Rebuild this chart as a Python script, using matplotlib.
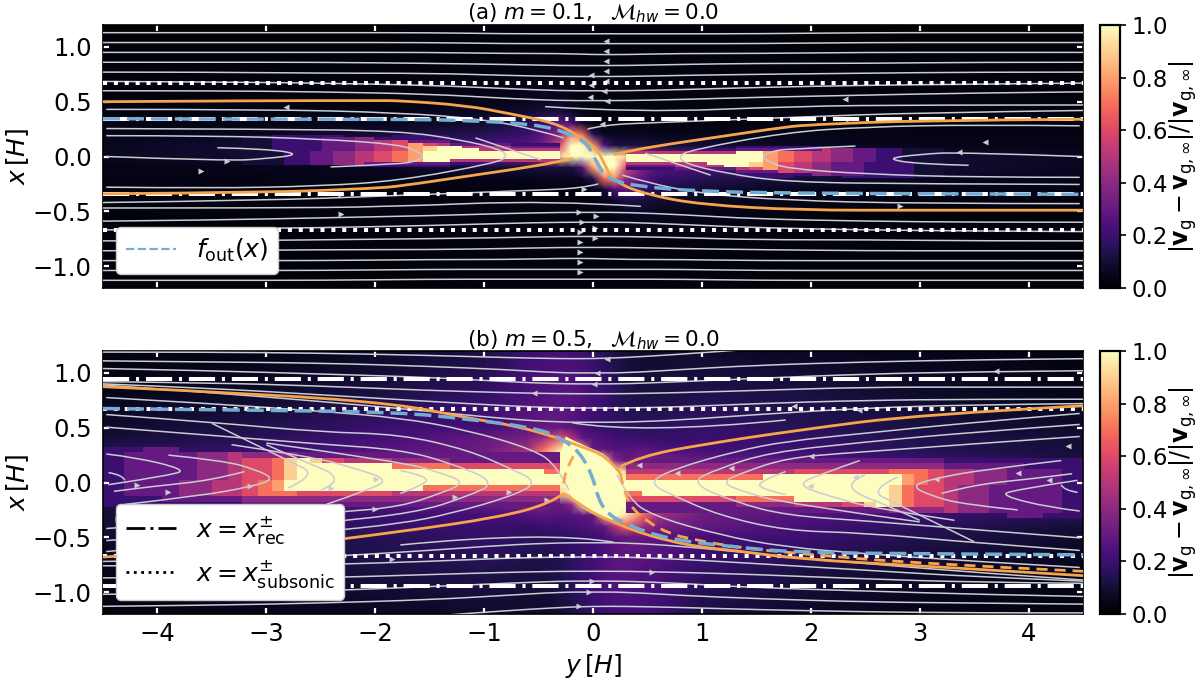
import numpy as np
import matplotlib
matplotlib.use('Agg')
import matplotlib.pyplot as plt
from matplotlib.lines import Line2D
from matplotlib.path import Path
from matplotlib.patches import PathPatch

plt.rcParams['font.size'] = 18

# grid of the background glow, values in percent of the colour range
bg_y = [-4.5, -3, -2, -1, -.6, -.45, -.3, -.2, -.1, 0, .1, .2, .3, .45, .6, 1, 2, 3, 4.5]
bg_x = [1.2, .8, .5, .4, .3, .2, .1, 0, -.1, -.2, -.3, -.4, -.5, -.8, -1.2]
bg_a_top = [
    [1, 1, 1, 2, 2, 2, 2, 2, 2, 2, 2, 2, 2, 2, 2, 2, 1, 1, 1],
    [2, 2, 2, 3, 3, 3, 3, 3, 3, 3, 3, 3, 3, 3, 3, 3, 2, 2, 2],
    [3, 3, 3, 5, 6, 7, 6, 5, 4, 3, 3, 3, 3, 3, 3, 3, 3, 3, 3],
    [3, 3, 4, 7, 9, 12, 12, 8, 5, 3, 3, 3, 3, 3, 3, 3, 3, 3, 3],
    [4, 4, 5, 9, 14, 20, 30, 25, 10, 4, 3, 3, 3, 3, 3, 3, 3, 3, 3],
    [5, 6, 10, 15, 20, 28, 40, 75, 70, 15, 7, 6, 6, 6, 5, 5, 5, 4, 4],
    [6, 10, 15, 25, 25, 35, 60, 100, 100, 80, 25, 12, 12, 12, 10, 10, 6, 5, 4],
    [6, 10, 20, 30, 40, 60, 90, 100, 100, 100, 100, 100, 90, 60, 40, 30, 20, 10, 6],
]
bg_b_top = [
    [3, 4, 7, 12, 20, 22, 22, 22, 20, 18, 15, 12, 10, 8, 8, 8, 6, 5, 3],
    [5, 8, 12, 18, 24, 25, 27, 27, 25, 22, 20, 17, 14, 12, 12, 14, 12, 8, 5],
    [8, 14, 20, 22, 28, 30, 30, 27, 22, 20, 18, 17, 17, 16, 17, 18, 15, 12, 8],
    [10, 16, 22, 30, 35, 45, 65, 50, 30, 26, 24, 22, 20, 20, 18, 20, 18, 14, 10],
    [15, 20, 25, 32, 45, 70, 95, 100, 80, 30, 28, 26, 26, 28, 25, 22, 20, 15, 10],
    [18, 25, 30, 35, 50, 80, 100, 100, 100, 100, 90, 40, 30, 35, 35, 30, 25, 20, 12],
    [20, 30, 40, 50, 60, 80, 100, 100, 100, 100, 100, 100, 90, 60, 50, 40, 30, 25, 15],
    [22, 35, 50, 70, 100, 100, 100, 100, 100, 100, 100, 100, 100, 100, 100, 70, 50, 35, 22],
]

# blocky wedge left of the planet, tenths of the range, a=1.0, '.'=no cell
wedge_y = [-4.50, -4.31, -4.13, -3.96, -3.80, -3.64, -3.50, -3.35, -3.22, -3.08, -2.95,
           -2.84, -2.72, -2.60, -2.49, -2.39, -2.29, -2.19, -2.10, -2.01, -1.85, -1.70,
           -1.56, -1.43, -1.31, -1.20, -1.05, -.90, -.75, -.60, -.45, -.30]
wedge_a_x = [.2, .175, .15, .125, .1, .075, .05, .025, 0, -.025, -.05, -.075, -.1]
wedge_a = [
    "........" "11222222" "....2222" ".......",
    "........" "11222233" "344" "22222" ".......",
    "........" "11222233" "34456" "333" "222" "....",
    "........" "11222233" "344568" "6" "5" "3333" "222",
    "........" "11222233" "344568" "9" "aa" "555" "333",
    "........" "11222233" "344568" "9" "aaa" "55555",
    "........" "11122334" "455678" "aaaaaaaaa",
    "........" "11122334" "455678" "aaaaaaaaa",
    "........" "11122334" "455678" "aaaaaaaaa",
    "........" "11122334" "455678" "aa" "5555555",
    "........" "11122334" "45" "333333" "222....",
    "........" "........" ".." "222222" ".......",
]
wedge_b_x = [.325, .275, .225, .175, .125, .075, .025, -.025, -.075, -.125, -.175, -.225]
wedge_b = [
    "2233" "...........................",
    "23333445" "4444" "3333" "3333" "33333333333",
    "233334456679" "a966" "5555" "4444" "3333333",
    "233334456679" "aaaa" "aaaa" "7777" "6666666",
    "233334456679" "aaaa" "aaaa" "aaaa" "aaaa" "aa7",
    "233334456679" "aaaaaaaaaaaaaaaaaaa",
    "23334455678a" "aaaaaaaaaaaaaaaaaaa",
    "23334455678a" "aaaa" "aaaa" "aa77" "7777" "777",
    "23334455" "6777" "6666" "6666" "5555" "5555" "555",
    "22233333" "4444" "4444" "4444" "4444" "4444" "444",
    "22222222" "3333" "3333" "3333" "3333" "3333" "333",
]

# saturated blob around the planet in (b)
core_b_y = [-.25, -.1, .13, .25, .3, .2, .01, -.145, -.24, -.3, -.3, -.25]
core_b_x = [.42, .34, .26, .05, -.15, -.37, -.3, -.2, -.07, .07, .3, .42]

# separatrices
orange_a_y = [-4.5, -3, -2, -1.77, -1.16, -.76, -.36, -.15, .04, .1, .19, .5, 1, 1.9, 3, 4.5]
orange_a_x = [.5, .51, .51, .51, .465, .39, .31, .2, .065, -.06, -.23, -.35, -.44, -.49, -.49, -.49]
stub_a_y = [-4.5, -3, -2, -1.77, -1.16, -.54, -.24, -.19]
stub_a_x = [-.34, -.33, -.29, -.27, -.18, -.09, -.03, -.02]
blue_a_y = [-4.5, -3, -1.77, -1.16, -.54, -.24, -.05, .04, .13, .38, 1, 1.9, 3, 4.5]
blue_a_x = [.345, .34, .34, .33, .295, .22, .125, -.07, -.2, -.27, -.32, -.335, -.34, -.345]

orange_b_y = [-4.5, -3, -1.77, -1.16, -.7, -.33, -.115, .13, .25]
orange_b_x = [.874, .807, .714, .59, .515, .41, .33, .24, .085]
dash_b_y = [.25, .285, .345, .5, .71, .9, 1.3, 1.9, 3, 4.5]
dash_b_x = [.085, -.07, -.22, -.36, -.47, -.515, -.59, -.65, -.74, -.81]
low_b_y = [-.27, -.145, .01, .19, .375, .68, .99, 1.3, 1.9, 3, 4.5]
low_b_x = [-.1, -.18, -.285, -.36, -.44, -.53, -.59, -.62, -.70, -.76, -.85]
up_b_y = [.25, .44, .99, 1.9, 3, 4.5]
up_b_x = [.145, .24, .345, .48, .62, .70]
left_b_y = [-4.5, -3, -1.77, -.85, -.39, -.27]
left_b_x = [-.68, -.6, -.45, -.315, -.19, -.1]
inner_b_y = [-.18, -.27, -.27]
inner_b_x = [.24, .085, -.03]
blue_b_y = [-4.5, -3, -1.77, -1.16, -.54, -.3, -.115, 0, .04, .13, .32, .68, 1.3, 1.9, 3, 4.5]
blue_b_x = [.675, .66, .64, .58, .5, .41, .27, .05, -.13, -.285, -.39, -.515, -.59, -.64, -.65, -.66]

rec_a, sub_a = .345, .67
rec_b, sub_b = .945, .67

# streamlines that cross the whole panel, x at flow_y, lower half is the same turned by 180 deg
flow_y = [-4.5, -3.5, -2.5, -1.5, -.8, -.3, 0, .3, .8, 1.5, 2.5, 3.5, 4.5]
flow_a = [
    [1.13, 1.13, 1.13, 1.13, 1.12, 1.12, 1.12, 1.12, 1.12, 1.12, 1.13, 1.13, 1.13],
    [1.04, 1.04, 1.04, 1.04, 1.03, 1.03, 1.03, 1.03, 1.03, 1.03, 1.04, 1.04, 1.04],
    [.95, .95, .95, .95, .94, .94, .93, .93, .94, .94, .95, .95, .95],
    [.86, .86, .86, .85, .84, .83, .83, .83, .84, .85, .85, .86, .86],
    [.77, .77, .76, .76, .74, .73, .73, .73, .74, .75, .76, .77, .77],
    [.685, .68, .67, .65, .62, .60, .60, .60, .61, .63, .65, .66, .67],
    [.60, .60, .59, .57, .53, .51, .51, .51, .52, .54, .56, .58, .59],
]
flow_b = [
    [1.19, 1.19, 1.18, 1.16, 1.14, 1.13, 1.13, 1.14, 1.17, 1.22, 1.3, 1.3, 1.3],
    [1.11, 1.10, 1.09, 1.06, 1.03, 1.0, 1.0, 1.0, 1.03, 1.07, 1.10, 1.12, 1.13],
    [1.04, 1.02, .99, .96, .92, .90, .90, .90, .92, .95, .99, 1.01, 1.02],
    [.92, .91, .88, .84, .82, .81, .81, .81, .82, .84, .87, .87, .87],
    [.90, .86, .80, .74, .70, .68, .68, .68, .69, .72, .75, .76, .76],
    [.89, .82, .74, .65, .58, .55, .55, .55, .57, .62, .68, .71, .72],
]

# shorter streamlines and horseshoes left of the planet, as (y, x) lists
arcs_a = [
    ([-.44, .4, 1.9, 3, 4.5], [.455, .40, .46, .47, .47]),
    ([-.05, .1, .6, 1.9, 3, 4.5], [.25, .29, .31, .36, .40, .42]),
    ([-4.47, -3, -1.77, -1, -.5, -.27], [.43, .43, .40, .34, .24, .17]),
    ([-4.47, -3, -1.77, -1.2, -.85, -.78, -.9, -1.77, -2.5, -3.5, -4.47],
     [.255, .25, .234, .15, .065, 0, -.06, -.22, -.27, -.29, -.28]),
    ([-4.47, -3.5, -2.5, -1.77, -1.6, -1.55, -1.62, -1.77, -2.41],
     [.19, .19, .16, .11, .04, 0, -.04, -.07, -.095]),
    ([-3.45, -3, -2.68, -3, -3.36, -4.47], [.08, .07, .02, -.02, -.04, 0]),
    ([-1.08, -.48], [.17, -.03]),
]
arcs_b = [
    ([-4.47, -3.5, -2.5, -1.77, -1.16, -.54, -.33, -.22],
     [.775, .72, .65, .59, .48, .3, .15, -.07]),
    ([-4.47, -3.5, -2.5, -1.77, -1.16, -.76, -.5, -.76, -1.31, -1.77, -2.5, -3.5, -4.47],
     [.62, .55, .46, .44, .3, .13, 0, -.13, -.285, -.376, -.45, -.55, -.63]),
    ([-4.47, -3.5, -2.5, -1.77, -1.31, -.88, -1.16, -1.62, -2.5, -3.5, -4.47],
     [.505, .43, .35, .3, .18, 0, -.13, -.275, -.37, -.46, -.53]),
    ([-3, -1.77, -1.4, -1.17, -1.4, -1.77, -2.3, -4.47], [.36, .19, .09, 0, -.1, -.22, -.27, -.42]),
    ([-1.77, -1.48, -1.6, -1.77], [.11, .05, -.04, -.1]),
    ([-3.32, -2.6, -2.15, -1.87, -2.1, -2.45], [.345, .24, .12, .02, -.08, -.2]),
    ([-3, -2.75, -2.25, -2.5], [.345, .23, .03, -.07]),
    ([-3.5, -2.8, -2.53, -2.8], [.54, .2, .07, -.05]),
    ([-3.2, -3.5, -4, -4.4], [.1, .02, -.03, -.08]),
    ([-3.9, -3.4, -3.1, -2.92, -3.15, -3.6, -4.3], [.25, .2, .12, .03, -.04, -.12, -.2]),
    ([-4.47, -4.2, -3.75, -3.85, -4.45], [.26, .23, .12, .07, -.02]),
    ([-4.45, -4.32, -4.3], [.09, .07, .02]),
    ([-1.77, -.44, .19], [-.57, -.44, -.545]),
]

# arrow heads that point to -y, turned copies point to +y
arrow_a_y = [-2.82, .1, .13, .08, .12, .12, .12, .12, .12, 3.36, 3.6, 2.31, 2.31, -.03, -.02, -.02]
arrow_a_x = [.45, .6, .51, .3, 1.05, .96, .87, .78, .69, .04, .135, .345, .525, .54, .65, .745]
arrow_b_y = [.13, .04, .01, -.54, 1.85, 3.7, 2.44, 4.36, 3.9, 4.19, 3.15, 2.41, 2.0, 1.99, .42, .77, 1.27]
arrow_b_x = [1.13, 1.0, .9, .82, .7, 1.02, .66, .33, .09, .02, .03, .05, .24, -.03, .16, .09, .13]

x_ticks = [-1, -.5, 0, .5, 1]
y_ticks = [-4, -3, -2, -1, 0, 1, 2, 3, 4]
cbar_ticks = [0, .2, .4, .6, .8, 1]

line_col = '#c9ccd2'
orange = '#f6a54c'
blue = '#74add2'
dashdot = (0, (6.5, 1.7, .76, 1.7))
dotted = (0, (1, 1.7))
blue_dash = (0, (4.9, 2))
orange_dash = (0, (4, 2.5))


def curve(ax, ys, xs, fill=None, **kw):
    # matplotlib draws the typed points as a quadratic bezier chain
    pts = np.column_stack([ys, xs])
    verts = [pts[0]]
    codes = [Path.MOVETO]
    for i in range(1, len(pts) - 1):
        end = pts[i + 1] if i == len(pts) - 2 else (pts[i] + pts[i + 1]) / 2
        verts += [pts[i], end]
        codes += [Path.CURVE3, Path.CURVE3]
    if len(pts) == 2:
        verts.append(pts[1])
        codes.append(Path.LINETO)
    patch = PathPatch(Path(verts, codes), facecolor=fill if fill is not None else 'none', **kw)
    ax.add_patch(patch)


def read_wedge(rows):
    table = np.full((len(rows), len(wedge_y) - 1), np.nan)
    for i, row in enumerate(rows):
        for j, c in enumerate(row):
            if c == 'a':
                table[i, j] = 1.0
            elif c != '.':
                table[i, j] = int(c) / 10
    return np.ma.masked_invalid(table)


def draw_panel(ax, bg_top, wedge_x, wedge, flow, arcs, arrow_y, arrow_x):
    top = np.array(bg_top) / 100
    bg = np.vstack([top, top[-2::-1, ::-1]])
    mesh = ax.pcolormesh(bg_y, bg_x, bg, cmap='magma', vmin=0, vmax=1, shading='gouraud')
    cells = read_wedge(wedge)
    ey = np.array(wedge_y)
    ex = np.array(wedge_x)
    ax.pcolormesh(ey, ex, cells, cmap='magma', vmin=0, vmax=1)
    ax.pcolormesh(-ey, -ex, cells, cmap='magma', vmin=0, vmax=1)
    fy = np.array(flow_y)
    for row in flow:
        row = np.array(row)
        curve(ax, fy, row, edgecolor=line_col, lw=1.1, zorder=3)
        curve(ax, -fy, -row, edgecolor=line_col, lw=1.1, zorder=3)
    for ys, xs in arcs:
        ys, xs = np.array(ys), np.array(xs)
        curve(ax, ys, xs, edgecolor=line_col, lw=1.1, zorder=3)
        curve(ax, -ys, -xs, edgecolor=line_col, lw=1.1, zorder=3)
    ay, ax_ = np.array(arrow_y), np.array(arrow_x)
    ax.plot(ay, ax_, ls='none', marker='<', ms=4.5, mfc=line_col, mec='none', zorder=3)
    ax.plot(-ay, -ax_, ls='none', marker='>', ms=4.5, mfc=line_col, mec='none', zorder=3)
    return mesh


def finish_panel(ax, title):
    ax.set_xlim(-4.5, 4.5)
    ax.set_ylim(-1.2, 1.2)
    ax.set_xticks(y_ticks)
    ax.set_yticks(x_ticks)
    ax.tick_params(direction='in', color='white', width=1.6, length=4, top=True, right=True,
                   labelsize=17.5, pad=6)
    ax.tick_params(axis='y', pad=8)
    ax.set_ylabel(r'$x\,[H]$', fontsize=18, labelpad=1)
    ax.set_title(title, fontsize=15.5, pad=3)
    for s in ax.spines.values():
        s.set_linewidth(1.2)


fig = plt.figure(figsize=(12, 6.8), dpi=100)
ax1 = fig.add_axes([103 / 1200, (680 - 288) / 680, 980 / 1200, 263 / 680])
ax2 = fig.add_axes([103 / 1200, (680 - 614) / 680, 980 / 1200, 263 / 680])
cax1 = fig.add_axes([1100 / 1200, (680 - 288) / 680, 20 / 1200, 263 / 680])
cax2 = fig.add_axes([1100 / 1200, (680 - 614) / 680, 20 / 1200, 263 / 680])

# panel (a)
m1 = draw_panel(ax1, bg_a_top, wedge_a_x, wedge_a, flow_a, arcs_a, arrow_a_y, arrow_a_x)
for v in (rec_a, -rec_a):
    ax1.axhline(v, color='white', lw=2.9, ls=dashdot, zorder=4)
for v in (sub_a, -sub_a):
    ax1.axhline(v, color='white', lw=2.9, ls=dotted, zorder=4)
s_y, s_x = np.array(stub_a_y), np.array(stub_a_x)
curve(ax1, orange_a_y, orange_a_x, edgecolor=orange, lw=2, zorder=5)
curve(ax1, s_y, s_x, edgecolor=orange, lw=2, zorder=5)
curve(ax1, -s_y, -s_x, edgecolor=orange, lw=2, zorder=5)
curve(ax1, blue_a_y, blue_a_x, edgecolor=blue, lw=2.5, ls=blue_dash, zorder=6)
ax1.legend(handles=[Line2D([], [], color=blue, lw=1.6, ls='--')], labels=[r'$f_{\rm out}(x)$'],
           loc='lower left', bbox_to_anchor=(.013, .053), borderaxespad=0, framealpha=1,
           fontsize=18, handlelength=2)
finish_panel(ax1, r'(a) $m=0.1,\ \ \mathcal{M}_{hw}=0.0$')
ax1.tick_params(labelbottom=False)

# panel (b)
m2 = draw_panel(ax2, bg_b_top, wedge_b_x, wedge_b, flow_b, arcs_b, arrow_b_y, arrow_b_x)
curve(ax2, core_b_y, core_b_x, fill=plt.get_cmap('magma')(1.0), edgecolor='none', zorder=2)
for v in (rec_b, -rec_b):
    ax2.axhline(v, color='white', lw=2.9, ls=dashdot, zorder=4)
for v in (sub_b, -sub_b):
    ax2.axhline(v, color='white', lw=2.9, ls=dotted, zorder=4)
curve(ax2, orange_b_y, orange_b_x, edgecolor=orange, lw=2, zorder=5)
curve(ax2, low_b_y, low_b_x, edgecolor=orange, lw=2, zorder=5)
curve(ax2, up_b_y, up_b_x, edgecolor=orange, lw=2, zorder=5)
curve(ax2, left_b_y, left_b_x, edgecolor=orange, lw=2, zorder=5)
curve(ax2, dash_b_y, dash_b_x, edgecolor=orange, lw=2, ls=orange_dash, zorder=5)
curve(ax2, inner_b_y, inner_b_x, edgecolor=orange, lw=2, ls=orange_dash, zorder=5)
curve(ax2, blue_b_y, blue_b_x, edgecolor=blue, lw=2.5, ls=blue_dash, zorder=6)
handles = [Line2D([], [], color='black', lw=2, ls=(0, (6.8, 1.8, 1.1, 1.8))),
           Line2D([], [], color='black', lw=2, ls=':')]
ax2.legend(handles=handles, labels=[r'$x=x_{\rm rec}^{\pm}$', r'$x=x_{\rm subsonic}^{\pm}$'],
           loc='lower left', bbox_to_anchor=(.013, .053), borderaxespad=0, framealpha=1,
           fontsize=18, handlelength=2)
finish_panel(ax2, r'(b) $m=0.5,\ \ \mathcal{M}_{hw}=0.0$')
ax2.set_xlabel(r'$y\,[H]$', fontsize=18, labelpad=4)

cb_label = r'$|\mathbf{v}_{\rm g}-\mathbf{v}_{\rm g,\infty}|/|\mathbf{v}_{\rm g,\infty}|$'
for m, c in ((m1, cax1), (m2, cax2)):
    cb = fig.colorbar(m, cax=c)
    cb.set_ticks(cbar_ticks)
    cb.ax.tick_params(labelsize=16.5, width=1.2, length=4, pad=4)
    cb.outline.set_linewidth(1.6)
    cb.set_label(cb_label, fontsize=17, labelpad=0)

fig.savefig('out.png', dpi=100)
